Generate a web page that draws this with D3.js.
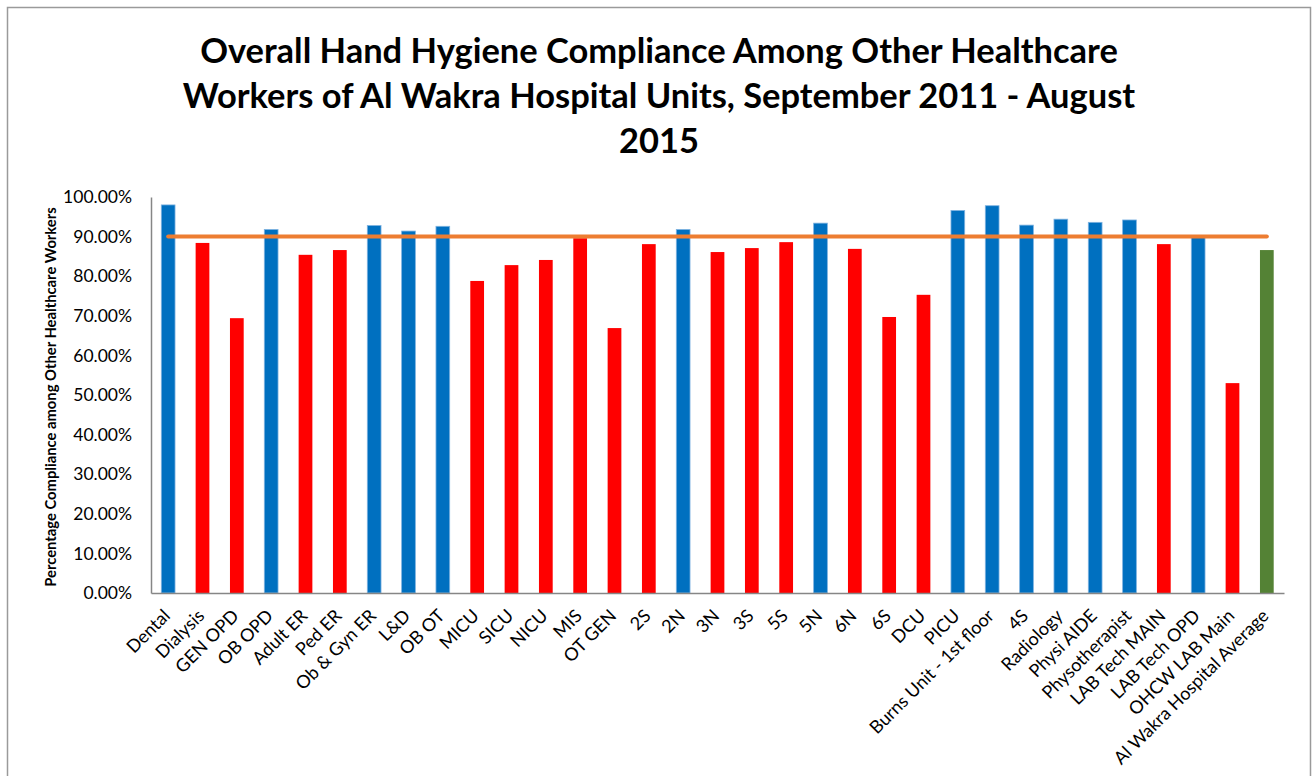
<!DOCTYPE html>
<html>
<head>
<meta charset="utf-8">
<script src="https://cdn.jsdelivr.net/npm/d3@7"></script>
<style>
  body { margin: 0; background: #fff; }
  svg { display: block; font-family: Lato, "Open Sans", sans-serif; }
</style>
</head>
<body>
<div id="chart"></div>
<script>
// Units in the order they appear on the x axis
const units = [
    'Dental', 'Dialysis', 'GEN OPD', 'OB OPD', 'Adult ER', 'Ped ER', 'Ob & Gyn ER', 'L&D', 'OB OT',
    'MICU', 'SICU', 'NICU', 'MIS', 'OT GEN', '2S', '2N', '3N', '3S', '5S', '5N', '6N', '6S', 'DCU',
    'PICU', 'Burns Unit - 1st floor', '4S', 'Radiology', 'Physi AIDE', 'Physotherapist',
    'LAB Tech MAIN', 'LAB Tech OPD', 'OHCW LAB Main', 'Al Wakra Hospital Average'
];

// Compliance per unit (fraction)
const compliance = [
    0.980, 0.884, 0.694, 0.918, 0.854, 0.866, 0.928, 0.914, 0.926,
    0.788, 0.828, 0.841, 0.896, 0.669, 0.881, 0.918, 0.861, 0.871, 0.886, 0.934, 0.869, 0.697, 0.753,
    0.966, 0.978, 0.929, 0.944, 0.936, 0.942,
    0.881, 0.899, 0.530, 0.866
];

// Which colour group each bar belongs to
const status = [
    'met', 'below', 'below', 'met', 'below', 'below', 'met', 'met', 'met',
    'below', 'below', 'below', 'below', 'below', 'below', 'met', 'below', 'below', 'below', 'met', 'below', 'below', 'below',
    'met', 'met', 'met', 'met', 'met', 'met',
    'below', 'met', 'below', 'average'
];

const target = 0.90;
const yTicks = [0, 0.1, 0.2, 0.3, 0.4, 0.5, 0.6, 0.7, 0.8, 0.9, 1.0];

const titleLines = [
    'Overall Hand Hygiene Compliance Among Other Healthcare',
    'Workers of Al Wakra Hospital Units, September 2011 - August',
    '2015'
];
const yTitle = 'Percentage Compliance among Other Healthcare Workers';

const width = 1315;
const height = 776;
const margin = { top: 197, right: 31, bottom: 183, left: 151 };

const svg = d3.select('#chart')
    .append('svg')
    .attr('width', width)
    .attr('height', height);

// chart frame
svg.append('rect')
    .attr('x', 7.5)
    .attr('y', 7.5)
    .attr('width', 1303)
    .attr('height', 800)
    .attr('fill', 'none')
    .attr('stroke', '#9a9a9a')
    .attr('stroke-width', 1.5);

// scale a text element so it spans a given width
function fitText(sel, target) {
    const w = sel.node().getComputedTextLength();
    const fs = parseFloat(sel.style('font-size'));
    sel.style('font-size', (fs * target / w) + 'px');
    return fs * target / w;
}

// Title
const t1 = svg.append('text')
    .attr('x', 659)
    .attr('y', 63)
    .attr('text-anchor', 'middle')
    .style('font-size', '30px')
    .style('font-weight', 'bold')
    .text(titleLines[0]);
const titleSize = fitText(t1, 918);

titleLines.slice(1).forEach((line, i) => {
    svg.append('text')
        .attr('x', 659)
        .attr('y', 63 + 45 * (i + 1))
        .attr('text-anchor', 'middle')
        .style('font-size', titleSize + 'px')
        .style('font-weight', 'bold')
        .text(line);
});

// Scales
const xScale = d3.scaleBand()
    .domain(units)
    .range([margin.left, width - margin.right])
    .paddingInner(0.6)
    .paddingOuter(0.3);

const yScale = d3.scaleLinear()
    .domain([0, 1])
    .range([height - margin.bottom, margin.top]);

const colour = d3.scaleOrdinal()
    .domain(['met', 'below', 'average'])
    .range(['#0070C0', '#FF0000', '#548235']);

// Y axis
const yAxis = svg.append('g')
    .attr('transform', `translate(${margin.left},0)`)
    .call(d3.axisLeft(yScale)
        .tickValues(yTicks)
        .tickSize(0)
        .tickPadding(19)
        .tickFormat(d3.format('.2%')));
yAxis.select('.domain').attr('stroke', '#868686').attr('stroke-width', 1.5);
yAxis.selectAll('text')
    .style('font-family', 'Lato, sans-serif')
    .style('font-size', '17.5px')
    .attr('fill', '#000');

// Y axis label
const yLab = svg.append('text')
    .attr('transform', 'rotate(-90)')
    .attr('x', -397)
    .attr('y', 56)
    .attr('text-anchor', 'middle')
    .style('font-size', '12px')
    .style('font-weight', 'bold')
    .text(yTitle);
fitText(yLab, 380);

// Bars
svg.selectAll('.bar')
    .data(units)
    .enter()
    .append('rect')
    .attr('class', 'bar')
    .attr('x', d => xScale(d))
    .attr('y', (d, i) => yScale(compliance[i]))
    .attr('width', xScale.bandwidth())
    .attr('height', (d, i) => yScale(0) - yScale(compliance[i]))
    .attr('fill', (d, i) => colour(status[i]))
    .attr('stroke', (d, i) => status[i] === 'met' ? '#7fb3e0' : 'none')
    .attr('stroke-width', 0.8);

// X axis
const xAxis = svg.append('g')
    .attr('transform', `translate(0,${yScale(0)})`)
    .call(d3.axisBottom(xScale).tickSize(0).tickPadding(0));
xAxis.select('.domain').attr('stroke', '#868686').attr('stroke-width', 1.5);
xAxis.selectAll('text')
    .style('font-family', 'Lato, sans-serif')
    .style('font-size', '18px')
    .attr('fill', '#000')
    .attr('text-anchor', 'end')
    .attr('dy', 0)
    .attr('y', 0)
    .attr('transform', 'translate(3,24) rotate(-45)');

// 90% target line
const targetLine = d3.line()
    .x(d => xScale(d) + xScale.bandwidth() / 2)
    .y(() => yScale(target));

svg.append('path')
    .datum([units[0], units[units.length - 1]])
    .attr('d', targetLine)
    .attr('fill', 'none')
    .attr('stroke', '#ED7D31')
    .attr('stroke-width', 4)
    .attr('stroke-linecap', 'round');
</script>
</body>
</html>
